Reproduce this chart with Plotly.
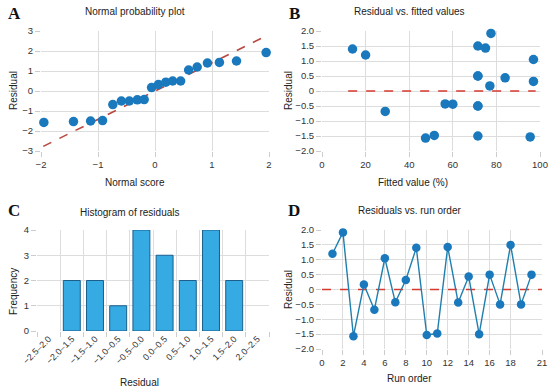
import plotly.graph_objects as go

# ---- data ----
normal_scores = [-1.95, -1.43, -1.13, -0.92, -0.74, -0.59, -0.45, -0.31, -0.19, -0.06,
                 0.06, 0.19, 0.31, 0.45, 0.59, 0.74, 0.92, 1.13, 1.43, 1.95]
sorted_residuals = [-1.57, -1.53, -1.50, -1.48, -0.68, -0.50, -0.50, -0.44, -0.43, 0.17,
                    0.32, 0.44, 0.50, 0.50, 1.05, 1.20, 1.40, 1.43, 1.50, 1.92]
ref_line_x = [-1.96, 1.96]
ref_line_y = [-2.77, 2.77]

run_order = list(range(1, 21))
run_residuals = [1.20, 1.92, -1.57, 0.17, -0.68, 1.05, -0.43, 0.32, 1.40, -1.53,
                 -1.48, 1.43, -0.44, 0.44, -1.50, 0.50, -0.50, 1.50, -0.50, 0.50]
fitted_values = [20.0, 77.5, 47.5, 77.0, 29.0, 97.0, 56.5, 97.0, 14.0, 95.5,
                 51.5, 75.0, 60.0, 84.0, 71.5, 71.5, 71.5, 71.5, 71.5, 71.5]

hist_bins = ["\u22122.5\u20132.0", "\u22122.0\u20131.5", "\u22121.5\u20131.0", "\u22121.0\u20130.5",
             "\u22120.5\u20130.0", "0.0\u20130.5", "0.5\u20131.0", "1.0\u20131.5", "1.5\u20132.0", "2.0\u20132.5"]
hist_counts = [0, 2, 2, 1, 4, 3, 2, 4, 2, 0]

res_ticks = [-2.0, -1.5, -1.0, -0.5, 0, 0.5, 1.0, 1.5, 2.0]
res_tick_text = ["\u22122.0", "\u22121.5", "\u22121.0", "\u22120.5", "0", "0.5", "1.0", "1.5", "2.0"]
run_ticks = [0, 2, 4, 6, 8, 10, 12, 14, 16, 18, 21]

# ---- styles ----
FONT = "Liberation Sans, Arial, sans-serif"
BLUE = "#1a78bd"
LINE_BLUE = "#1f7fae"
DASH_A = "#b9473f"
DASH_RED = "#d63a2e"
GRID = "#dddddd"
TICKC = "#333333"
W, H = 550, 391

def px(x):
    return x / W

def py(y):
    return 1 - y / H

fig = go.Figure()

# A
fig.add_trace(go.Scatter(x=ref_line_x, y=ref_line_y, mode="lines",
                         line=dict(color=DASH_A, width=1.6, dash="dash"),
                         xaxis="x", yaxis="y", showlegend=False, cliponaxis=False))
fig.add_trace(go.Scatter(x=normal_scores, y=sorted_residuals, mode="markers",
                         marker=dict(color=BLUE, size=9.5),
                         xaxis="x", yaxis="y", showlegend=False, cliponaxis=False))
# B
fig.add_trace(go.Scatter(x=[min(fitted_values) - 2, max(fitted_values) + 1], y=[0, 0], mode="lines",
                         line=dict(color=DASH_RED, width=1.6, dash="dash"),
                         xaxis="x2", yaxis="y2", showlegend=False))
fig.add_trace(go.Scatter(x=fitted_values, y=run_residuals, mode="markers",
                         marker=dict(color=BLUE, size=9.5),
                         xaxis="x2", yaxis="y2", showlegend=False, cliponaxis=False))
# C
fig.add_trace(go.Bar(x=hist_bins, y=hist_counts,
                     marker=dict(color="#36aae2",
                                 line=dict(color="#1b5f8c",
                                           width=[1 if c > 0 else 0 for c in hist_counts])),
                     xaxis="x3", yaxis="y3", showlegend=False))
# D
fig.add_trace(go.Scatter(x=[0, 21], y=[0, 0], mode="lines",
                         line=dict(color=DASH_RED, width=1.6, dash="dash"),
                         xaxis="x4", yaxis="y4", showlegend=False))
fig.add_trace(go.Scatter(x=run_order, y=run_residuals, mode="lines+markers",
                         line=dict(color=LINE_BLUE, width=1.4),
                         marker=dict(color=BLUE, size=8.5),
                         xaxis="x4", yaxis="y4", showlegend=False, cliponaxis=False))

tickfont = dict(family=FONT, size=9.5, color=TICKC)

def ax(domain, anchor, **kw):
    d = dict(domain=domain, anchor=anchor, showgrid=True, gridcolor=GRID, gridwidth=1,
             zeroline=False, showline=False, ticks="outside", ticklen=5, tickcolor="#cccccc",
             tickwidth=1, tickfont=tickfont, ticklabeloverflow="allow", automargin=False)
    d.update(kw)
    return d

fig.update_layout(
    width=W, height=H,
    margin=dict(l=0, r=0, t=0, b=0, autoexpand=False),
    paper_bgcolor="white", plot_bgcolor="white",
    bargap=0.27,
    xaxis=ax([px(41), px(269)], "y", range=[-2, 2], tickvals=[-2, -1, 0, 1, 2]),
    yaxis=ax([py(151), py(31)], "x", range=[-3, 3], tickvals=[-3, -2, -1, 0, 1, 2, 3]),
    xaxis2=ax([px(322), px(540)], "y2", range=[0, 100], tickvals=[0, 20, 40, 60, 80, 100]),
    yaxis2=ax([py(151), py(31)], "x2", range=[-2, 2], tickvals=res_ticks, ticktext=res_tick_text),
    xaxis3=ax([px(37), px(269)], "y3", type="category", tickangle=-45, tickson="boundaries",
              range=[-0.5, 9.5], tickfont=dict(family=FONT, size=9, color=TICKC)),
    yaxis3=ax([py(331), py(230)], "x3", range=[0, 4], tickvals=[0, 1, 2, 3, 4]),
    xaxis4=ax([px(322), px(542)], "y4", range=[0, 21], tickvals=run_ticks),
    yaxis4=ax([py(349), py(230)], "x4", range=[-2, 2], tickvals=res_ticks, ticktext=res_tick_text),
)

def text(t, x, y, size=10, angle=0, fam=FONT, color="#222222"):
    fig.add_annotation(text=t, x=px(x), y=py(y), xref="paper", yref="paper",
                       showarrow=False, xanchor="center", yanchor="middle", textangle=angle,
                       font=dict(family=fam, size=size, color=color))

# panel titles
text("Normal probability plot", 135, 12)
text("Residual vs. fitted values", 409, 12)
text("Histogram of residuals", 129, 212)
text("Residuals vs. run order", 409, 211)

# axis titles
text("Normal score", 135, 183)
text("Residual", 13, 91, angle=-90)
text("Fitted value (%)", 413, 183)
text("Residual", 288, 91, angle=-90)
text("Residual", 139, 382)
text("Frequency", 13, 292, angle=-90)
text("Run order", 409, 378)
text("Residual", 288, 290, angle=-90)

# panel letters
serif = "Liberation Serif, Times New Roman, serif"
text("<b>A</b>", 14, 14, size=17, fam=serif, color="#111111")
text("<b>B</b>", 294, 14, size=17, fam=serif, color="#111111")
text("<b>C</b>", 14, 210, size=17, fam=serif, color="#111111")
text("<b>D</b>", 294, 210, size=17, fam=serif, color="#111111")

fig.write_html(
    "out.html",
    config={"displayModeBar": False},
    post_script="document.body.style.margin='0';document.body.style.overflow='hidden';"
                "document.documentElement.style.overflow='hidden';",
)
